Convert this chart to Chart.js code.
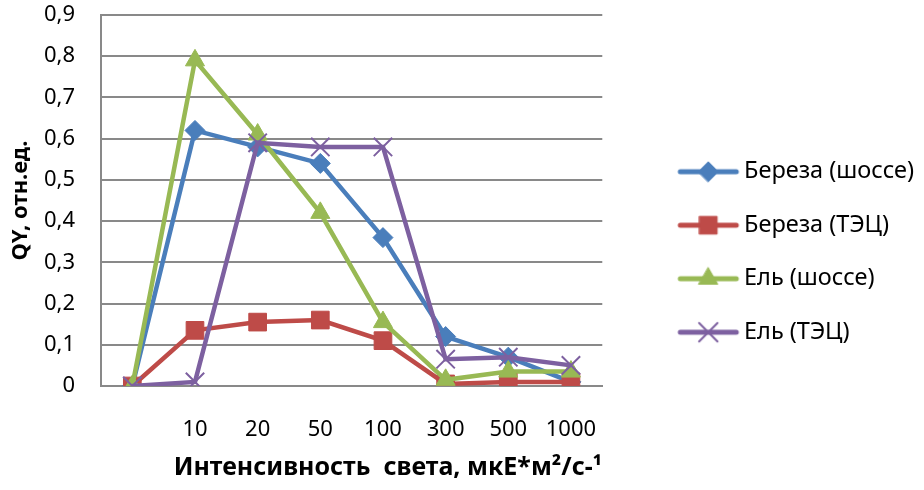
<!DOCTYPE html>
<html>
<head>
<meta charset="utf-8">
<script src="https://cdn.jsdelivr.net/npm/chart.js@4.4.1/dist/chart.umd.min.js"></script>
<style>
  html, body { margin: 0; padding: 0; background: #fff; }
  #wrap { width: 924px; height: 490px; }
</style>
</head>
<body>
<div id="wrap"><canvas id="myChart"></canvas></div>
<script>
// data
const categories = ['', '10', '20', '50', '100', '300', '500', '1000'];
const seriesNames = ['Береза (шоссе)', 'Береза (ТЭЦ)', 'Ель (шоссе)', 'Ель (ТЭЦ)'];
const birchRoad = [0, 0.62, 0.58, 0.54, 0.36, 0.12, 0.07, 0.01];
const birchPlant = [0, 0.135, 0.155, 0.16, 0.11, 0.005, 0.01, 0.01];
const spruceRoad = [0, 0.79, 0.61, 0.42, 0.155, 0.015, 0.035, 0.035];
const sprucePlant = [0, 0.01, 0.59, 0.58, 0.58, 0.065, 0.07, 0.05];
const yTickValues = [0, 0.1, 0.2, 0.3, 0.4, 0.5, 0.6, 0.7, 0.8, 0.9];
const yTickLabels = ['0', '0,1', '0,2', '0,3', '0,4', '0,5', '0,6', '0,7', '0,8', '0,9'];

const colors = ['#4a7ebb', '#be4b48', '#98b954', '#7d60a0'];
const markers = ['rectRot', 'rect', 'triangle', 'crossRot'];
const markerSizes = [10, 12.5, 11, 13];
const FONT = "'Noto Sans', sans-serif";
const GRID = '#898989';

// legend icon: line with the marker in the middle (drawn wider than the legend box)
function makeIcon(color, style, radius) {
    const c = document.createElement('canvas');
    c.width = 120;
    c.height = 28;
    const ctx = c.getContext('2d');
    ctx.strokeStyle = color;
    ctx.lineWidth = 5;
    ctx.lineCap = 'round';
    ctx.beginPath();
    ctx.moveTo(58, 14);
    ctx.lineTo(114, 14);
    ctx.stroke();
    ctx.fillStyle = color;
    ctx.lineWidth = style === 'crossRot' ? 2 : 1;
    Chart.helpers.drawPoint(ctx, { pointStyle: style, radius: radius, rotation: 0, borderWidth: ctx.lineWidth }, 86, 14);
    return c;
}
const icons = colors.map((c, i) => makeIcon(c, markers[i], markerSizes[i]));

const series = [birchRoad, birchPlant, spruceRoad, sprucePlant];
const datasets = series.map((data, i) => ({
    label: seriesNames[i],
    data: data,
    borderColor: colors[i],
    backgroundColor: colors[i],
    borderWidth: 4.5,
    pointStyle: markers[i],
    pointRadius: markerSizes[i],
    pointHoverRadius: markerSizes[i],
    pointBorderWidth: markers[i] === 'crossRot' ? 2 : 1,
    tension: 0,
    order: series.length - i
}));

const ctx = document.getElementById('myChart').getContext('2d');
new Chart(ctx, {
    type: 'line',
    data: { labels: categories, datasets: datasets },
    options: {
        responsive: true,
        maintainAspectRatio: false,
        animation: false,
        layout: { padding: { top: 14, right: 0, bottom: 0, left: 0 } },
        plugins: {
            tooltip: { enabled: false },
            legend: {
                position: 'right',
                maxWidth: 400,
                labels: {
                    usePointStyle: true,
                    pointStyleWidth: 100,
                    padding: 30,
                    color: '#000',
                    font: { family: FONT, size: 23.5 },
                    sort: (a, b) => a.datasetIndex - b.datasetIndex,
                    generateLabels(chart) {
                        const items = Chart.defaults.plugins.legend.labels.generateLabels(chart);
                        items.forEach(it => { it.pointStyle = icons[it.datasetIndex]; });
                        return items;
                    }
                }
            }
        },
        scales: {
            x: {
                offset: true,
                grid: { display: false, drawTicks: false },
                border: { display: true, color: GRID, width: 2 },
                ticks: { color: '#000', padding: 31, maxRotation: 0, font: { family: FONT, size: 22 } },
                title: {
                    display: true,
                    align: 'end',
                    text: 'Интенсивность  света, мкЕ*м²/с-¹',
                    color: '#000',
                    padding: { top: 0, bottom: 7 },
                    font: { family: FONT, size: 25, weight: 'bold' }
                },
                afterFit: s => { s.height = 104; }
            },
            y: {
                min: 0,
                max: 0.9,
                grid: { color: GRID, lineWidth: 2, drawTicks: false },
                border: { display: true, color: GRID, width: 2 },
                afterBuildTicks: s => { s.ticks = yTickValues.map(v => ({ value: v })); },
                ticks: {
                    color: '#000',
                    padding: 26,
                    font: { family: FONT, size: 22 },
                    callback: (v, i) => yTickLabels[i]
                },
                title: {
                    display: true,
                    text: 'QY, отн.ед.',
                    color: '#000',
                    padding: { top: 8, bottom: 0 },
                    font: { family: FONT, size: 22, weight: 'bold' }
                },
                afterFit: s => {
                    s.width = 101;
                    s.paddingTop = 13;
                    s.paddingBottom = 13;
                }
            }
        }
    }
});
</script>
</body>
</html>
